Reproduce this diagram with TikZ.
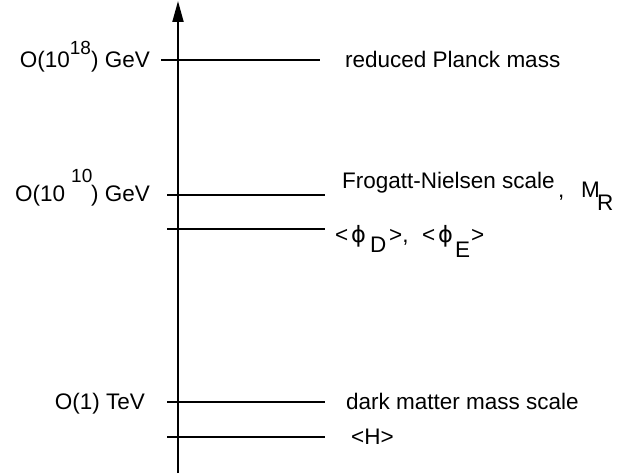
\documentclass[tikz,border=0pt]{standalone}
\usepackage{fontspec}
\setmainfont{Liberation Sans}
\newfontfamily\greekfont{DejaVu Sans}
\usetikzlibrary{arrows.meta}
\begin{document}
\begin{tikzpicture}[x=1pt,y=-1pt,
  lvl/.style={line width=2pt},
  axisline/.style={line width=2pt,-{Triangle[length=21pt,width=11pt]}},
  lbl/.style={inner sep=0pt,anchor=base west,font=\fontsize{22.5}{26}\selectfont},
  lblr/.style={inner sep=0pt,anchor=base east,font=\fontsize{22.5}{26}\selectfont},
  sup/.style={inner sep=0pt,anchor=base west,font=\fontsize{19}{22}\selectfont}]
\useasboundingbox (0,0) rectangle (627,476);
% axis
\coordinate (ab) at (178,473);
\coordinate (at) at (178,1);
\draw[axisline] (ab) -- (at);
% levels
\coordinate (l1a) at (161,60);  \coordinate (l1b) at (320,60);
\coordinate (l2a) at (167,195); \coordinate (l2b) at (325,195);
\coordinate (l3a) at (167,229); \coordinate (l3b) at (325,229);
\coordinate (l4a) at (167,402); \coordinate (l4b) at (325,402);
\coordinate (l5a) at (167,437); \coordinate (l5b) at (325,437);
\draw[lvl] (l1a) -- (l1b);
\draw[lvl] (l2a) -- (l2b);
\draw[lvl] (l3a) -- (l3b);
\draw[lvl] (l4a) -- (l4b);
\draw[lvl] (l5a) -- (l5b);
% left labels
\node[lblr] (s1) at (150,68) {O(10\raisebox{13pt}{\fontsize{19}{22}\selectfont 18}) GeV};
\node[lbl] (s2a) at (15,202) {O(10};
\node[sup] (s2b) at (71,183) {10};
\node[lbl] (s2c) at (91,202) {) GeV};
\node[lblr] (s3) at (145,409) {O(1) TeV};
% right labels
\node[lbl] (r1) at (345,68) {reduced Planck mass};
\node[lbl] (r2) at (342,189) {Frogatt-Nielsen scale};
\node[lbl] (r2c) at (558,198) {,};
\node[lbl] (r2m) at (581,198) {M};
\node[lbl] (r2r) at (597,211) {R};
\node[lbl] (p1) at (335,243) {<};
\node[lbl] (p2) at (351,243) {\greekfont ϕ};
\node[lbl] (p3) at (370,252) {D};
\node[lbl] (p4) at (389,243) {>,};
\node[lbl] (p5) at (422,243) {<};
\node[lbl] (p6) at (438,243) {\greekfont ϕ};
\node[lbl] (p7) at (455,258) {E};
\node[lbl] (p8) at (471,243) {>};
\node[lbl] (r4) at (346,409) {dark matter mass scale};
\node[lbl] (r5) at (351,444) {<H>};
\end{tikzpicture}
\end{document}
